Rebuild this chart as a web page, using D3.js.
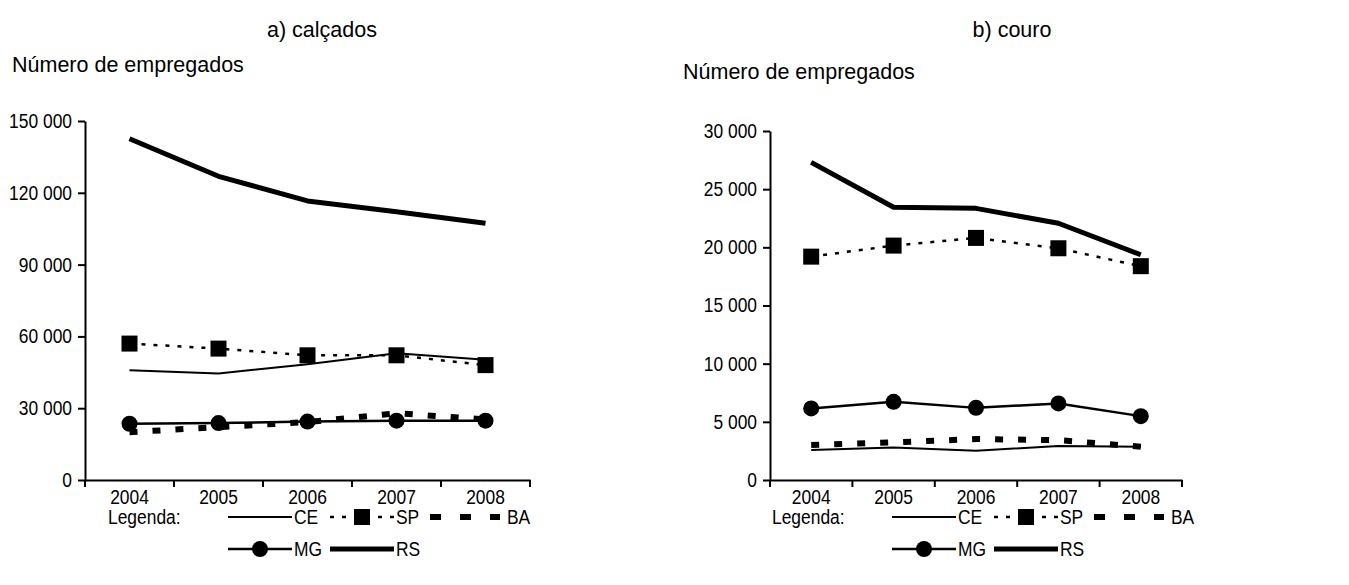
<!DOCTYPE html>
<html>
<head>
<meta charset="utf-8">
<script src="https://cdn.jsdelivr.net/npm/d3@7"></script>
<style>
  body { margin: 0; background: #fff; }
  text { fill: #000; }
  .title { font-family: "Liberation Sans", Arial, sans-serif; font-size: 21.5px; }
  .lbl { font-family: "Liberation Sans", Arial, sans-serif; font-size: 20px; }
</style>
</head>
<body>
<svg id="chart" width="1349" height="585"></svg>
<script>
const years = ["2004", "2005", "2006", "2007", "2008"];

// a) calçados
const calcTicks = [0, 30000, 60000, 90000, 120000, 150000];
const calcCE = [45900, 44500, 48400, 53000, 50200];
const calcSP = [57000, 54900, 52100, 52100, 48000];
const calcBA = [20000, 22100, 24200, 27900, 25300];
const calcMG = [23500, 23800, 24400, 24800, 24800];
const calcRS = [142600, 126900, 116600, 112100, 107300];

// b) couro
const couroTicks = [0, 5000, 10000, 15000, 20000, 25000, 30000];
const couroCE = [2570, 2800, 2510, 2920, 2860];
const couroSP = [19200, 20150, 20810, 19920, 18380];
const couroBA = [3000, 3230, 3520, 3430, 2860];
const couroMG = [6150, 6720, 6200, 6580, 5490];
const couroRS = [27300, 23440, 23350, 22070, 19360];

const fmt = d3.formatLocale({ decimal: ",", thousands: " ", grouping: [3], currency: ["", ""] }).format(",");

// line styles per state
const styles = {
    CE: { width: 2, dash: null, marker: null },
    SP: { width: 2.5, dash: "4,8", marker: "square" },
    BA: { width: 6, dash: "8,15", marker: null },
    MG: { width: 2.5, dash: null, marker: "circle" },
    RS: { width: 5, dash: null, marker: null }
};

const svg = d3.select("#chart");

function drawMarker(g, type, cx, cy) {
    if (type === "square") {
        g.append("rect")
            .attr("x", cx - 8).attr("y", cy - 8)
            .attr("width", 16).attr("height", 16)
            .attr("fill", "#000");
    } else if (type === "circle") {
        g.append("circle")
            .attr("cx", cx).attr("cy", cy)
            .attr("r", 8)
            .attr("fill", "#000");
    }
}

function drawPanel(p) {
    const g = svg.append("g");

    g.append("text").attr("class", "title")
        .attr("x", p.titleX).attr("y", 37)
        .attr("text-anchor", "middle")
        .text(p.title);
    g.append("text").attr("class", "title")
        .attr("x", p.ylabelX).attr("y", p.ylabelY)
        .text("Número de empregados");

    const x = d3.scaleBand().domain(years).range([p.left, p.right]).padding(0);
    const y = d3.scaleLinear().domain([0, d3.max(p.ticks)]).range([p.bottom, p.top]);

    // y axis
    const ya = g.append("g")
        .attr("transform", `translate(${p.left},0)`)
        .call(d3.axisLeft(y).tickValues(p.ticks).tickFormat(fmt).tickSize(7).tickSizeOuter(0).tickPadding(6));
    ya.selectAll("text").attr("class", "lbl");
    ya.selectAll("line, path").attr("stroke", "#000").attr("stroke-width", 2);
    ya.attr("font-size", null).attr("font-family", null);

    // x axis: labels centred, ticks between categories
    const xa = g.append("g")
        .attr("transform", `translate(0,${p.bottom})`)
        .call(d3.axisBottom(x).tickSize(0).tickSizeOuter(0).tickPadding(10));
    xa.selectAll("text").attr("class", "lbl");
    xa.select(".domain").attr("stroke", "#000").attr("stroke-width", 2);
    xa.attr("font-size", null).attr("font-family", null);
    const bounds = years.map(d => x(d)).concat([x(years[years.length - 1]) + x.bandwidth()]);
    g.selectAll(".xtick").data(bounds).join("line")
        .attr("x1", d => d).attr("x2", d => d)
        .attr("y1", p.bottom).attr("y2", p.bottom + 7)
        .attr("stroke", "#000").attr("stroke-width", 2);

    const line = d3.line()
        .x((d, i) => x(years[i]) + x.bandwidth() / 2)
        .y(d => y(d));

    ["CE", "BA", "MG", "SP", "RS"].forEach(key => {
        const s = styles[key];
        const vals = p.series[key];
        g.append("path")
            .datum(vals)
            .attr("d", line)
            .attr("fill", "none")
            .attr("stroke", "#000")
            .attr("stroke-width", s.width)
            .attr("stroke-dasharray", s.dash)
            .attr("stroke-linejoin", "round");
        if (s.marker) {
            vals.forEach((v, i) => drawMarker(g, s.marker, x(years[i]) + x.bandwidth() / 2, y(v)));
        }
    });

    // legend
    const lx = p.legendX;
    const r1 = 517, r2 = 549;
    g.append("text").attr("class", "lbl").attr("x", lx).attr("y", r1 + 7).text("Legenda:");
    const items = [
        { key: "CE", x: lx + 120, y: r1 },
        { key: "SP", x: lx + 222, y: r1 },
        { key: "BA", x: lx + 322, y: r1, textGap: 7 },
        { key: "MG", x: lx + 120, y: r2 },
        { key: "RS", x: lx + 222, y: r2 }
    ];
    items.forEach(it => {
        const s = styles[it.key];
        const w = it.key === "BA" ? 70 : 64;
        g.append("line")
            .attr("x1", it.x).attr("x2", it.x + w)
            .attr("y1", it.y).attr("y2", it.y)
            .attr("stroke", "#000")
            .attr("stroke-width", s.width)
            .attr("stroke-dasharray", it.key === "BA" ? "11,19" : s.dash);
        if (s.marker) drawMarker(g, s.marker, it.x + w / 2, it.y);
        g.append("text").attr("class", "lbl")
            .attr("x", it.x + w + (it.textGap || 2)).attr("y", it.y + 7)
            .text(it.key);
    });
}

drawPanel({
    title: "a) calçados", titleX: 322, ylabelX: 12, ylabelY: 72,
    left: 85, right: 530, top: 121, bottom: 480,
    ticks: calcTicks, legendX: 108,
    series: { CE: calcCE, SP: calcSP, BA: calcBA, MG: calcMG, RS: calcRS }
});

drawPanel({
    title: "b) couro", titleX: 1012, ylabelX: 683, ylabelY: 79,
    left: 770, right: 1182, top: 131, bottom: 480,
    ticks: couroTicks, legendX: 772,
    series: { CE: couroCE, SP: couroSP, BA: couroBA, MG: couroMG, RS: couroRS }
});

// condensed look of the axis and legend lettering
svg.selectAll("text.lbl").each(function() {
    const len = this.getComputedTextLength();
    d3.select(this).attr("textLength", len * 0.87).attr("lengthAdjust", "spacingAndGlyphs");
});
</script>
</body>
</html>
